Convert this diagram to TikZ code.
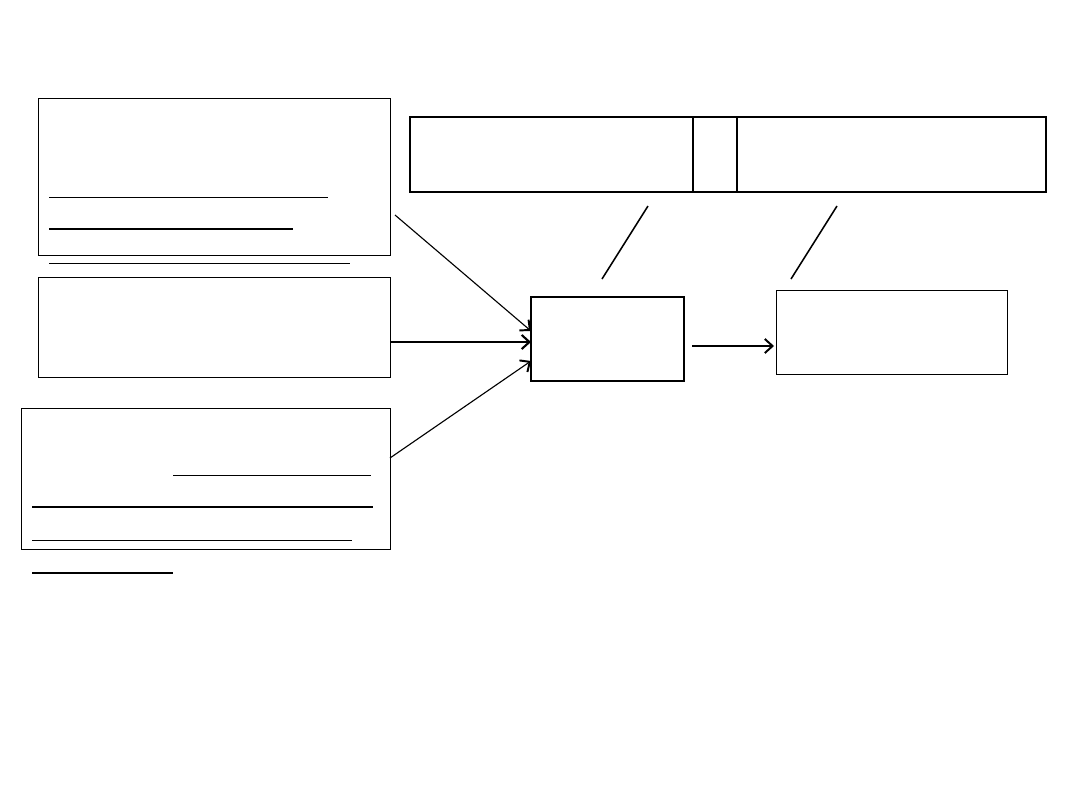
\documentclass[tikz,border=0pt]{standalone}
\usetikzlibrary{fit,arrows.meta}
\begin{document}
\begin{tikzpicture}[x=0.025cm,y=-0.025cm,
  box/.style={draw,inner sep=0pt,line width=0.7pt},
  thickbox/.style={draw,inner sep=0pt,line width=1.3pt},
  thinrule/.style={line width=0.7pt},
  thickrule/.style={line width=1.4pt},
  conn/.style={line width=0.8pt,-{Straight Barb[length=5.5pt,width=10pt,line width=1.4pt]}},
  connthick/.style={line width=1.4pt,-{Straight Barb[length=5.5pt,width=10pt,line width=1.5pt]}},
  slash/.style={line width=1.1pt}]
\fill[white] (0,0) rectangle (1080,810);
\useasboundingbox (0,0) rectangle (1080,810);
% left boxes
\node[box,fit={(38,98) (390,255)}] (A) {};
\node[box,fit={(38,277) (390,377)}] (B) {};
\node[box,fit={(21,408) (390,549)}] (C) {};
% rules in/around A
\draw[thinrule] (49,197) -- (328,197);
\draw[thickrule] (49,229) -- (293,229);
\draw[thinrule] (49,263) -- (350,263);
% rules in/around C
\draw[thinrule] (173,475) -- (371,475);
\draw[thickrule] (32,507) -- (373,507);
\draw[thinrule] (32,540) -- (352,540);
\draw[thickrule] (32,573) -- (173,573);
% centre and right boxes
\node[thickbox,fit={(531,297) (684,381)}] (D) {};
\node[box,fit={(776,290) (1007,374)}] (E) {};
% top bar
\node[thickbox,fit={(410,117) (1046,192)}] (T) {};
\draw[line width=1.3pt] (693,117) -- (693,192);
\draw[line width=1.3pt] (737,117) -- (737,192);
% slashes
\coordinate (s1a) at (648,206); \coordinate (s1b) at (602,279);
\coordinate (s2a) at (837,206); \coordinate (s2b) at (791,279);
\draw[slash] (s1a) -- (s1b);
\draw[slash] (s2a) -- (s2b);
% connectors
\coordinate (a1) at (395,215); \coordinate (d1) at (531,331);
\coordinate (b1) at (390,342); \coordinate (d2) at (531,342);
\coordinate (c1) at (390,458); \coordinate (d3) at (531,361);
\coordinate (dout) at (692,346); \coordinate (ein) at (774,346);
\draw[conn] (a1) -- (d1);
\draw[connthick] (b1) -- (d2);
\draw[conn] (c1) -- (d3);
\draw[conn] (dout) -- (ein);
\end{tikzpicture}
\end{document}
